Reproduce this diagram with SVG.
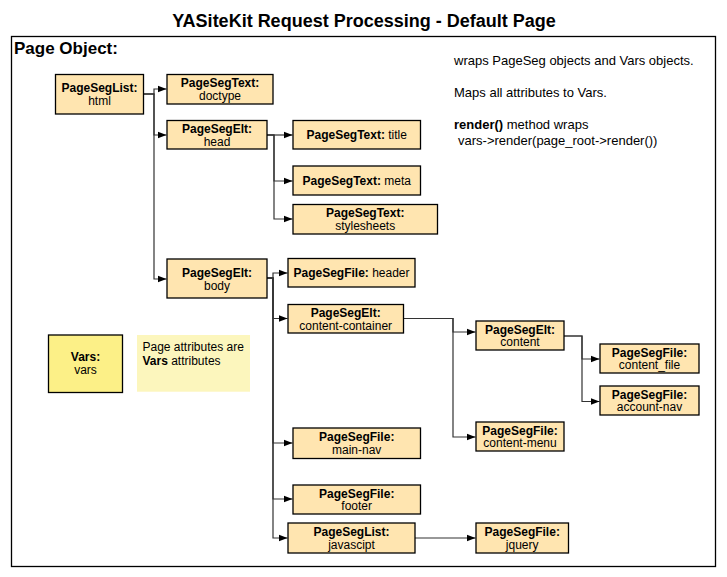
<svg xmlns="http://www.w3.org/2000/svg" width="727" height="577" viewBox="0 0 727 577">
<style>
text{font-family:"Liberation Sans",Arial,sans-serif;fill:#000}
.n rect{fill:#FFE5B0;stroke:#000;stroke-width:1.3}
.b{font-weight:bold}
.t{font-size:12px;text-anchor:middle}
.c path{fill:none;stroke:#333;stroke-width:1.2;marker-end:url(#ar)}
.r{font-size:13px}
</style>
<defs>
<marker id="ar" markerUnits="userSpaceOnUse" markerWidth="10" markerHeight="8" refX="9" refY="4" orient="auto">
<path d="M0,0.5 L9,4 L0,7.5 z" fill="#000"/>
</marker>
</defs>
<rect width="727" height="577" fill="#fff"/>
<text x="364" y="26.5" class="b" font-size="18" text-anchor="middle">YASiteKit Request Processing - Default Page</text>
<rect x="11.5" y="36.5" width="704" height="530" fill="none" stroke="#000" stroke-width="1.3"/>
<text x="14" y="54" class="b" font-size="17">Page Object:</text>

<g id="notes">
<text x="454" y="65" class="r">wraps PageSeg objects and Vars objects.</text>
<text x="454" y="97" class="r">Maps all attributes to Vars.</text>
<text x="454" y="129" class="r"><tspan class="b">render()</tspan> method wraps</text>
<text x="458" y="145" class="r"> vars-&gt;render(page_root-&gt;render())</text>
</g>

<g class="c" id="connectors">
<path d="M143.5,94 H154 V89 H166.5"/>
<path d="M143.5,94 H154 V135 H166.5"/>
<path d="M143.5,94 H154 V279 H166.5"/>
<path d="M267,135 H274 V135 H292.5"/>
<path d="M267,135 H274 V181 H292.5"/>
<path d="M267,135 H274 V219 H292.5"/>
<path d="M267,278 H273 V273 H287.5"/>
<path d="M267,278 H273 V318.5 H287.5"/>
<path d="M267,278 H273 V443 H292.5"/>
<path d="M267,278 H273 V499 H292.5"/>
<path d="M267,278 H273 V538 H287.5"/>
<path d="M403.5,318.5 H453 V332 H475.5"/>
<path d="M403.5,318.5 H453 V437 H475.5"/>
<path d="M564,336 H582 V359 H599.5"/>
<path d="M564,336 H582 V401.5 H599.5"/>
<path d="M415,538 H475.5"/>
</g>

<g id="html" class="n"><rect x="55.5" y="74.5" width="88" height="39.5"/><text class="t" x="99.5" y="92.3"><tspan class="b">PageSegList:</tspan><tspan x="99.5" dy="13">html</tspan></text></g>
<g id="doctype" class="n"><rect x="167" y="74.5" width="106" height="29.5"/><text class="t" x="220" y="87.3"><tspan class="b">PageSegText:</tspan><tspan x="220" dy="12.8">doctype</tspan></text></g>
<g id="head" class="n"><rect x="167" y="120.5" width="100" height="28.5"/><text class="t" x="217" y="132.7"><tspan class="b">PageSegElt:</tspan><tspan x="217" dy="12.8">head</tspan></text></g>
<g id="title" class="n"><rect x="293" y="120.5" width="127.5" height="28.5"/><text class="t" x="356.7" y="139"><tspan class="b">PageSegText:</tspan> title</text></g>
<g id="meta" class="n"><rect x="293" y="166" width="127.5" height="29"/><text class="t" x="356.7" y="185"><tspan class="b">PageSegText:</tspan> meta</text></g>
<g id="stylesheets" class="n"><rect x="293" y="204.5" width="144.5" height="29.5"/><text class="t" x="365.2" y="217.3"><tspan class="b">PageSegText:</tspan><tspan x="365.2" dy="12.8">stylesheets</tspan></text></g>
<g id="body" class="n"><rect x="167" y="259" width="100" height="39"/><text class="t" x="217" y="276.5"><tspan class="b">PageSegElt:</tspan><tspan x="217" dy="13.5">body</tspan></text></g>
<g id="header" class="n"><rect x="288" y="258.5" width="127" height="28.5"/><text class="t" x="351.5" y="277"><tspan class="b">PageSegFile:</tspan> header</text></g>
<g id="content-container" class="n"><rect x="288" y="304.5" width="115.5" height="28.5"/><text class="t" x="345.7" y="316.7"><tspan class="b">PageSegElt:</tspan><tspan x="345.7" dy="12.8">content-container</tspan></text></g>
<g id="vars"><rect x="48.5" y="335" width="74" height="57.5" fill="#FCF087" stroke="#000" stroke-width="1.3"/><text class="t" x="85.5" y="360.7"><tspan class="b">Vars:</tspan><tspan x="85.5" dy="13.6">vars</tspan></text></g>
<g id="vars-note"><rect x="137" y="335" width="113" height="56.7" fill="#FCF6BD"/><text x="142.5" y="351" font-size="12">Page attributes are</text><text x="142.5" y="364.7" font-size="12"><tspan class="b">Vars</tspan> attributes</text></g>
<g id="content" class="n"><rect x="476" y="321" width="88" height="29"/><text class="t" x="520" y="333.5"><tspan class="b">PageSegElt:</tspan><tspan x="520" dy="12.8">content</tspan></text></g>
<g id="content_file" class="n"><rect x="600" y="344" width="99" height="29"/><text class="t" x="649.5" y="356.5"><tspan class="b">PageSegFile:</tspan><tspan x="649.5" dy="12.8">content_file</tspan></text></g>
<g id="account-nav" class="n"><rect x="600" y="386" width="99" height="29"/><text class="t" x="649.5" y="398.5"><tspan class="b">PageSegFile:</tspan><tspan x="649.5" dy="12.8">account-nav</tspan></text></g>
<g id="content-menu" class="n"><rect x="476" y="422" width="88" height="29"/><text class="t" x="520" y="434.5"><tspan class="b">PageSegFile:</tspan><tspan x="520" dy="12.8">content-menu</tspan></text></g>
<g id="main-nav" class="n"><rect x="293" y="428" width="127.5" height="30.5"/><text class="t" x="356.7" y="441"><tspan class="b">PageSegFile:</tspan><tspan x="356.7" dy="12.8">main-nav</tspan></text></g>
<g id="footer" class="n"><rect x="293" y="485" width="127.5" height="29"/><text class="t" x="356.7" y="497.5"><tspan class="b">PageSegFile:</tspan><tspan x="356.7" dy="12.8">footer</tspan></text></g>
<g id="javascipt" class="n"><rect x="288" y="523" width="127" height="30"/><text class="t" x="351.5" y="535.8"><tspan class="b">PageSegList:</tspan><tspan x="351.5" dy="12.8">javascipt</tspan></text></g>
<g id="jquery" class="n"><rect x="476" y="523" width="92.5" height="30"/><text class="t" x="522.2" y="535.8"><tspan class="b">PageSegFile:</tspan><tspan x="522.2" dy="12.8">jquery</tspan></text></g>
</svg>
